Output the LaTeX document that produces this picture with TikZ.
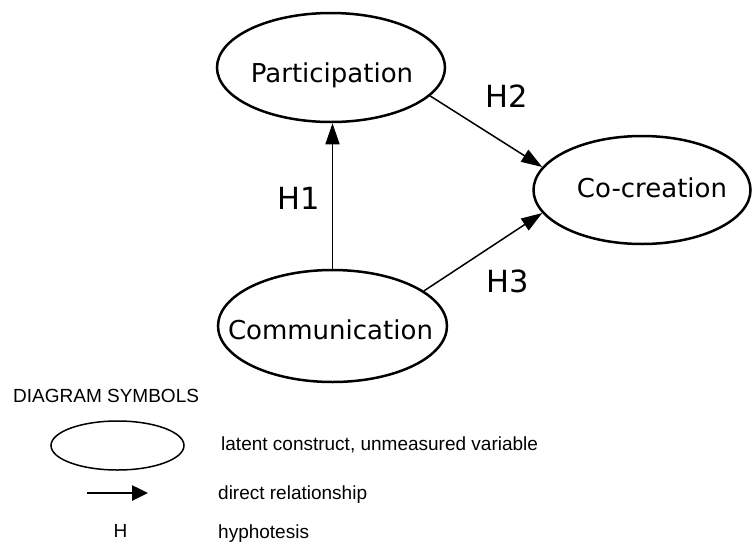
\documentclass[tikz,border=0pt]{standalone}
\usepackage{fontspec}
\setmainfont{DejaVu Sans}
\newfontfamily\legendfont{Liberation Sans}
\usetikzlibrary{shapes.geometric,arrows.meta}

\tikzset{
  construct/.style={ellipse, draw=black, line width=2.5pt, inner sep=0pt},
  constructname/.style={font=\fontsize{26}{30}\selectfont, inner sep=0pt, anchor=base},
  hyplabel/.style={font=\fontsize{30.5}{36}\selectfont, inner sep=0pt},
  path/.style={line width=1.5pt, -{Triangle[length=21pt,width=14pt]}},
  legendtext/.style={font=\legendfont\fontsize{19}{23}\selectfont, anchor=base west, inner sep=0pt},
  legendshape/.style={ellipse, draw=black, line width=1.5pt, inner sep=0pt,
    minimum width=133pt, minimum height=49pt},
  legendarrow/.style={line width=2.6pt, -{Triangle[length=16pt,width=15pt]}}
}

\begin{document}
\begin{tikzpicture}[x=1pt,y=-1pt]
  \useasboundingbox (0,0) rectangle (752,544);

  % latent constructs
  \node[construct, minimum width=228pt, minimum height=109pt] (part) at (331,67.5) {};
  \node[construct, minimum width=217pt, minimum height=108pt] (cocr) at (642,190) {};
  \node[construct, minimum width=229pt, minimum height=112pt] (comm) at (332.5,326) {};
  \node[constructname] (partname) at (332,82) {Participation};
  \node[constructname] (cocrname) at (652,197) {Co-creation};
  \node[constructname] (commname) at (330.5,339) {Communication};

  % hypothesised paths
  \draw[path] (comm.north) -- (comm.north |- part.south);
  \draw[path] (part.-16) -- (cocr.167);
  \draw[path] (comm.21.5) -- (cocr.193.5);

  \node[hyplabel] (h1) at (299,198) {H1};
  \node[hyplabel] (h2) at (506.5,96.5) {H2};
  \node[hyplabel] (h3) at (507.5,281.5) {H3};

  % legend
  \node[legendtext] (legtitle) at (13,402) {DIAGRAM SYMBOLS};
  \node[legendshape] (legell) at (117.5,445.5) {};
  \node[legendtext] (legelltxt) at (221,450) {latent construct, unmeasured variable};
  \coordinate (arrA) at (87,493);
  \coordinate (arrB) at (148,493);
  \draw[legendarrow] (arrA) -- (arrB);
  \node[legendtext] (legarrtxt) at (218,499.5) {direct relationship};
  \node[legendtext, anchor=base] (legh) at (120.5,537) {H};
  \node[legendtext] (leghtxt) at (218,538) {hyphotesis};
\end{tikzpicture}
\end{document}
